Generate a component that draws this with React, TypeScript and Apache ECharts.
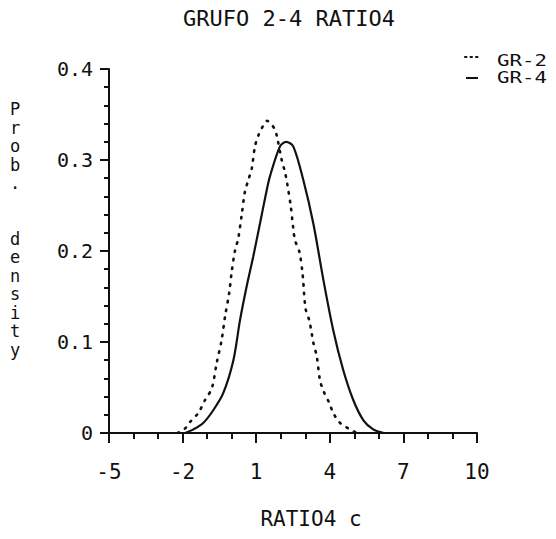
import React, { useEffect, useRef } from "react";
import * as echarts from "echarts";

// RATIO4 values (x) and estimated probability density (y) for each group
const gr2X = [-2.2, -1.9, -1.7, -1.36, -1.09, -0.81, -0.61, -0.41, -0.27, -0.1, 0.0, 0.14, 0.27, 0.41, 0.54, 0.68, 0.82, 0.95, 1.09, 1.29, 1.45, 1.6, 1.77, 1.86, 2.04, 2.17, 2.27, 2.41, 2.51, 2.58, 2.76, 2.89, 3.01, 3.16, 3.26, 3.33, 3.47, 3.6, 3.76, 3.98, 4.14, 4.42, 4.82, 5.1];
const gr2Y = [0.0, 0.005, 0.012, 0.022, 0.036, 0.049, 0.077, 0.102, 0.128, 0.154, 0.177, 0.201, 0.214, 0.24, 0.265, 0.278, 0.291, 0.315, 0.327, 0.338, 0.343, 0.34, 0.333, 0.324, 0.3, 0.287, 0.273, 0.249, 0.225, 0.212, 0.199, 0.175, 0.137, 0.124, 0.11, 0.099, 0.084, 0.058, 0.045, 0.033, 0.022, 0.011, 0.004, 0.0];

const gr4X = [-1.9, -1.56, -1.16, -0.75, -0.34, 0.07, 0.34, 0.61, 0.88, 1.16, 1.43, 1.56, 1.97, 2.22, 2.51, 2.92, 3.33, 3.74, 4.14, 4.55, 4.96, 5.37, 5.77, 6.2];
const gr4Y = [0.0, 0.004, 0.011, 0.025, 0.044, 0.08, 0.124, 0.161, 0.194, 0.231, 0.267, 0.282, 0.315, 0.32, 0.315, 0.278, 0.23, 0.168, 0.113, 0.069, 0.036, 0.014, 0.004, 0.0];

const seriesNames = ["GR-2", "GR-4"];
const xLabelValues = [-5, -2, 1, 4, 7, 10];

const FONT = "DejaVu Sans Mono";
const INK = "#111";

const pairs = (xs: number[], ys: number[]) => xs.map((x, i) => [x, ys[i]]);

export default function App() {
  const ref = useRef<HTMLDivElement>(null);

  useEffect(() => {
    if (!ref.current) return;
    const chart = echarts.init(ref.current, null, { renderer: "svg" });

    const baseX = {
      type: "value" as const,
      min: -5,
      max: 10,
      position: "bottom" as const,
      splitLine: { show: false },
    };

    const legendText = (text: string, y: number) => ({
      type: "text",
      x: 497,
      y,
      scaleX: 1.3,
      style: {
        x: 0,
        y: 0,
        text,
        font: `16px "${FONT}"`,
        fill: INK,
        align: "left",
        verticalAlign: "middle",
      },
    });

    chart.setOption({
      animation: false,
      backgroundColor: "#fff",
      grid: { left: 109, right: 79, top: 69, bottom: 106 },
      xAxis: [
        {
          ...baseX,
          interval: 1,
          axisLine: { onZero: false, lineStyle: { color: INK, width: 2 } },
          axisTick: { length: 6, lineStyle: { color: INK, width: 2 } },
          axisLabel: {
            customValues: xLabelValues,
            margin: 28,
            fontFamily: FONT,
            fontSize: 21,
            color: INK,
            formatter: (v: number) => String(v),
          },
        },
        {
          ...baseX,
          axisLine: { show: false, onZero: false },
          axisTick: {
            customValues: xLabelValues,
            length: 10,
            lineStyle: { color: INK, width: 2 },
          },
          axisLabel: { show: false },
        },
      ],
      yAxis: {
        type: "value",
        min: 0,
        max: 0.4,
        interval: 0.1,
        splitLine: { show: false },
        axisLine: { show: true, onZero: false, lineStyle: { color: INK, width: 2 } },
        axisTick: { length: 9, lineStyle: { color: INK, width: 2 } },
        minorTick: { show: true, splitNumber: 5, length: 5, lineStyle: { color: INK, width: 2 } },
        axisLabel: {
          margin: 16,
          fontFamily: FONT,
          fontSize: 20,
          color: INK,
          formatter: (v: number) => (v === 0 ? "0" : v.toFixed(1)),
        },
      },
      series: [
        {
          name: seriesNames[0],
          type: "line",
          data: pairs(gr2X, gr2Y),
          smooth: 0.3,
          showSymbol: false,
          lineStyle: { color: INK, width: 2.6, type: [1.5, 7], cap: "round" },
        },
        {
          name: seriesNames[1],
          type: "line",
          data: pairs(gr4X, gr4Y),
          smooth: 0.3,
          showSymbol: false,
          lineStyle: { color: INK, width: 2.2 },
        },
      ],
      graphic: [
        {
          type: "text",
          style: {
            x: 289,
            y: 18,
            text: "GRUFO 2-4 RATIO4",
            font: `22px "${FONT}"`,
            fill: INK,
            align: "center",
            verticalAlign: "middle",
          },
        },
        {
          type: "text",
          style: {
            x: 311,
            y: 519,
            text: "RATIO4 c",
            font: `21px "${FONT}"`,
            fill: INK,
            align: "center",
            verticalAlign: "middle",
          },
        },
        {
          type: "text",
          style: {
            x: 15,
            y: 100,
            text: "P\nr\no\nb\n.\n\n\nd\ne\nn\ns\ni\nt\ny",
            font: `17px "${FONT}"`,
            lineHeight: 18.5,
            fill: INK,
            align: "center",
            verticalAlign: "top",
          },
        },
        // legend keys and names
        {
          type: "line",
          shape: { x1: 465, y1: 57, x2: 478, y2: 57 },
          style: { stroke: INK, lineWidth: 2, lineDash: [1.5, 4], lineCap: "round" },
        },
        {
          type: "line",
          shape: { x1: 466, y1: 78, x2: 478, y2: 78 },
          style: { stroke: INK, lineWidth: 2 },
        },
        legendText(seriesNames[0], 60),
        legendText(seriesNames[1], 77),
      ],
    });

    return () => chart.dispose();
  }, []);

  return (
    <div
      ref={ref}
      style={{ position: "fixed", left: 0, top: 0, width: 556, height: 539 }}
    />
  );
}
